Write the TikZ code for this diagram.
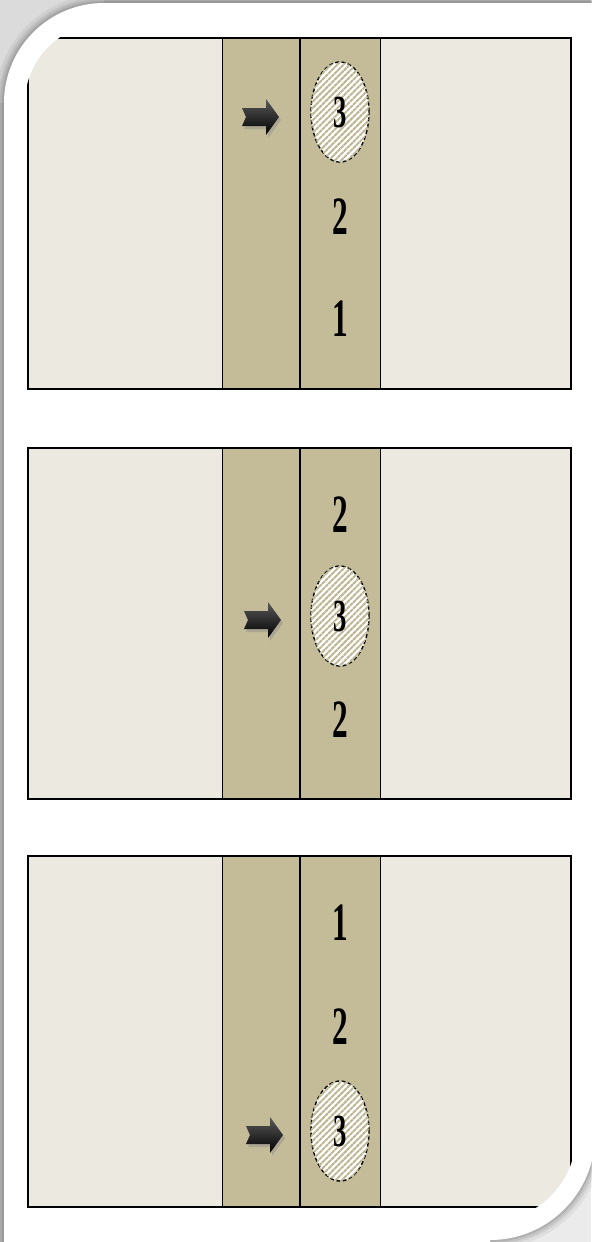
\documentclass[tikz,border=0pt]{standalone}
\usepackage{fontspec}
\setmainfont{Liberation Serif}
\usepackage{graphicx}
\usetikzlibrary{patterns.meta,shapes.geometric}
\definecolor{paper}{RGB}{236,234,224}
\definecolor{panelTan}{RGB}{196,188,152}
\definecolor{hatchTan}{RGB}{190,182,146}
\definecolor{shadowGray}{RGB}{204,204,204}
\newcommand\cnum[1]{\scalebox{0.58}[1]{#1}}
\begin{document}
\begin{tikzpicture}[x=0.5pt,y=-0.5pt,
  num/.style={font=\fontsize{27}{27}\selectfont\bfseries, inner sep=0pt},
  blob/.style={ellipse, draw=black, dash pattern=on 2pt off 1.2pt, line width=0.7pt,
     fill=white, postaction={pattern={Lines[angle=45,distance=2.2pt,line width=1pt]}, pattern color=hatchTan},
     minimum width=29pt, minimum height=50pt, inner sep=0pt,
     font=\fontsize{23}{23}\selectfont\bfseries},
  bigarrow/.style={top color=black!65, middle color=black!92, bottom color=black, draw=none},
  arrowshadow/.style={fill=black!45, opacity=0.45},
  panelline/.style={draw=black, line width=0.9pt},
  thinline/.style={draw=black, line width=0.45pt},
  midline/.style={draw=black, line width=1.3pt},
  halo/.style={draw=black, line join=round}
]
\def\framepath{(4,1262) -- (4,103) .. controls (4,47.8) and (48.8,3) .. (104,3) -- (612,3) -- (612,1135) -- (595,1135) .. controls (595,1193) and (548,1240) .. (490,1240) -- (490,1262) -- cycle}
% background
\fill[white] (0,0) rectangle (591,1242);
\useasboundingbox (0,0) rectangle (591,1242);
\fill[shadowGray] (0,0) rectangle (4,1242);
\fill[shadowGray] (0,0) rectangle (591,3);
\fill[black!14] (0,0) rectangle (104,103);
\fill[black!8] (490,1135) rectangle (591,1242);
% soft shadow halo
\draw[halo, line width=9pt, opacity=0.05] \framepath;
\draw[halo, line width=6pt, opacity=0.06] \framepath;
\draw[halo, line width=4pt, opacity=0.07] \framepath;
\draw[halo, line width=2pt, opacity=0.09] \framepath;
\fill[white] \framepath;
% panels
\begin{scope}
\clip (25,1300) -- (25,103) .. controls (25,59.4) and (60.4,24) .. (104,24) -- (700,24) -- (700,1135) -- (576,1135) .. controls (576,1182.5) and (537.5,1221) .. (490,1221) -- (490,1300) -- cycle;
\foreach \t in {38,448,856}{
  \fill[paper] (28,\t) rectangle (571,{\t+351});
  \fill[panelTan] (222,\t) rectangle (380,{\t+351});
  \draw[thinline] (222,\t) -- (222,{\t+351});
  \draw[thinline] (380,\t) -- (380,{\t+351});
  \draw[midline] (300,\t) -- (300,{\t+351});
  \draw[panelline] (28,\t) rectangle (571,{\t+351});
}
\end{scope}
% arrows
\foreach \ax/\ay in {260/117,262/620,264/1135}{
  \fill[arrowshadow, shift={({\ax+2},{\ay+3})}] (-18,-9) -- (6,-9) -- (6,-18) -- (19,0) -- (6,18) -- (6,9) -- (-18,9) -- (-14,0) -- cycle;
  \shade[bigarrow, shift={(\ax,\ay)}] (-18,-9) -- (6,-9) -- (6,-18) -- (19,0) -- (6,18) -- (6,9) -- (-18,9) -- (-14,0) -- cycle;
}
% panel 1
\node[blob] (e1) at (340,112) {\cnum{3}};
\node[num] (a2) at (340,217) {\cnum{2}};
\node[num] (a1) at (340,319) {\cnum{1}};
% panel 2
\node[num] (b2t) at (340,515) {\cnum{2}};
\node[blob] (e2) at (340,616) {\cnum{3}};
\node[num] (b2b) at (340,720) {\cnum{2}};
% panel 3
\node[num] (c1) at (340,923) {\cnum{1}};
\node[num] (c2) at (340,1027) {\cnum{2}};
\node[blob] (e3) at (340,1131) {\cnum{3}};
\end{tikzpicture}
\end{document}
